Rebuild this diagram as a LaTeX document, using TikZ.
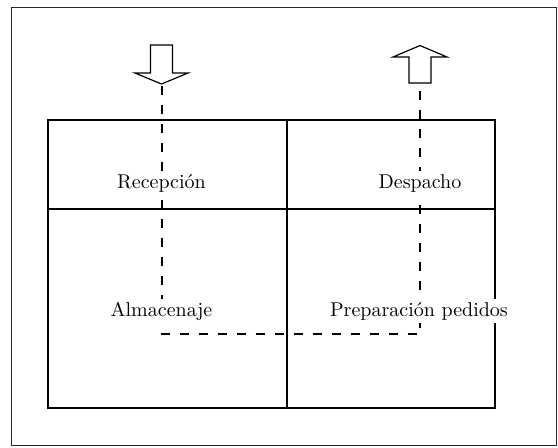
\documentclass[tikz,border=0pt]{standalone}
\usepackage{tikz}

\begin{document}
\begin{tikzpicture}[x=0.5pt,y=-0.5pt,
    frame/.style={black!85,line width=0.5pt},
    grid/.style={black,line width=0.75pt},
    flow/.style={black,line width=1pt,dash pattern=on 4.5pt off 5pt},
    bigarrow/.style={black,line width=0.6pt,fill=white,line join=miter},
    label/.style={fill=white,inner sep=1.5pt,font=\normalsize}]
    \useasboundingbox (0,0) rectangle (558,447);
    \draw [frame] (11,7) rectangle (556,445);
    % table
    \draw [grid] (48,120) rectangle (495,408);
    \draw [grid] (48,209) -- (495,209);
    \draw [grid] (287,120) -- (287,408);
    % in and out
    \draw [bigarrow] (150.5,45) -- (172.5,45) -- (172.5,73) -- (188,73) -- (161.5,84)
        -- (135,73) -- (150.5,73) -- cycle;
    \draw [bigarrow] (409,83) -- (431,83) -- (431,57) -- (447,57) -- (420,45.5)
        -- (393,57) -- (409,57) -- cycle;
    \coordinate (intip) at (161.5,86);
    \coordinate (outfoot) at (420,86);
    \coordinate (turnL) at (161.5,334);
    \coordinate (turnR) at (420,334);
    \draw [flow] (intip) -- (turnL) -- (turnR) -- (outfoot);
    % zones
    \node [label] (recep) at (161.5,183) {Recepción};
    \node [label] (desp) at (420,183) {Despacho};
    \node [label] (alma) at (161.5,311) {Almacenaje};
    \node [label] (prep) at (419,311) {Preparación pedidos};
\end{tikzpicture}
\end{document}
